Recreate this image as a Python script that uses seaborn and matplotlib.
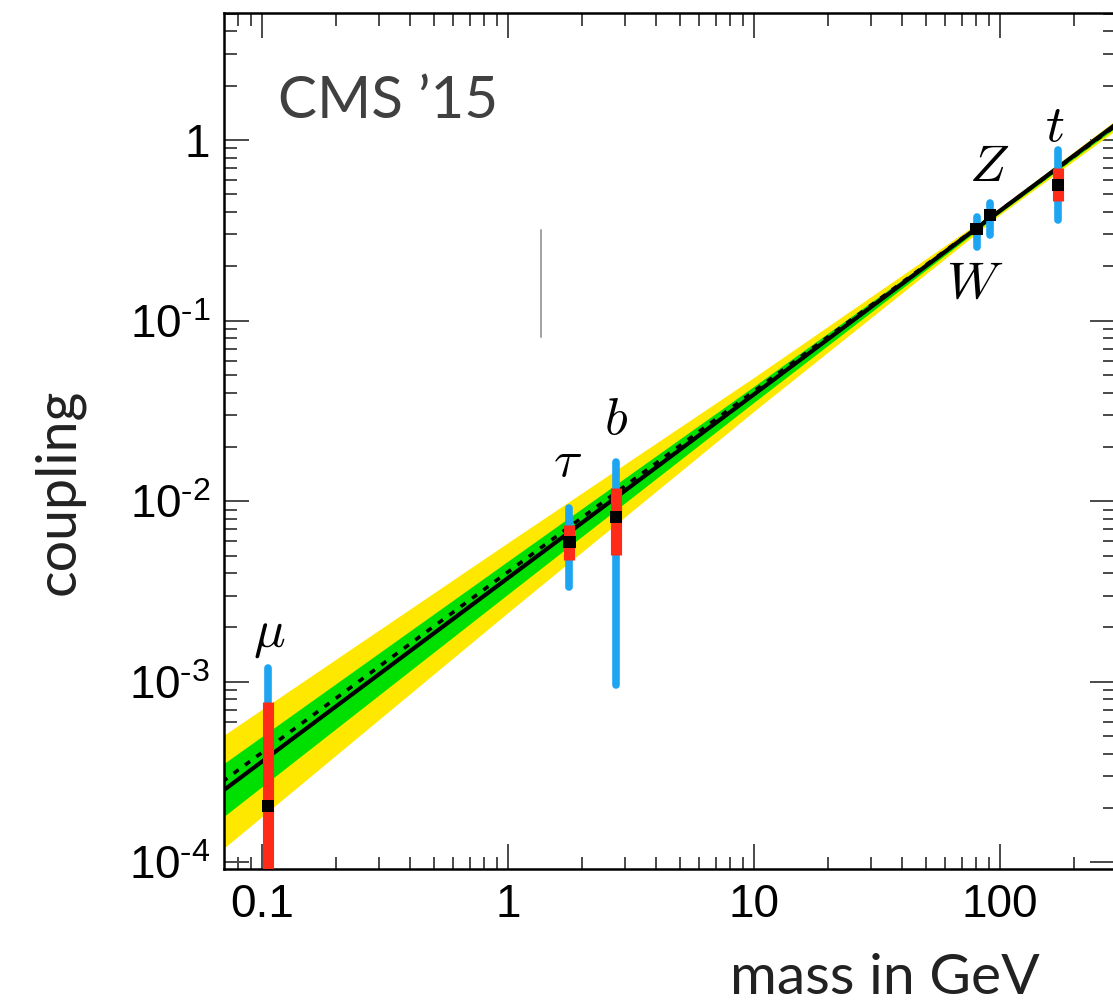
import numpy as np
import pandas as pd
import matplotlib
matplotlib.use("Agg")
import matplotlib.pyplot as plt
import seaborn as sns
from matplotlib.ticker import FixedLocator, FixedFormatter, LogLocator, NullFormatter

# ---------------- data ----------------
particles = ["mu", "tau", "b", "W", "Z", "t"]
particle_labels = [r"$\mu$", r"$\tau$", r"$b$", r"$W$", r"$Z$", r"$t$"]
mass = [0.1057, 1.777, 2.75, 80.4, 91.2, 172.0]
coupling = [2.06e-4, 5.96e-3, 8.20e-3, 0.322, 0.385, 0.564]
red_lo = [5.0e-5, 4.74e-3, 5.05e-3, 0.308, 0.362, 0.459]
red_hi = [7.76e-4, 7.40e-3, 1.19e-2, 0.336, 0.405, 0.700]
blue_lo = [5.0e-5, 3.36e-3, 9.64e-4, 0.256, 0.298, 0.361]
blue_hi = [1.20e-3, 9.19e-3, 1.65e-2, 0.375, 0.448, 0.880]
label_x = [0.1075, 1.74, 2.75, 79.0, 90.2, 167.0]
label_y = [1.81e-3, 1.64e-2, 2.81e-2, 0.161, 0.708, 1.18]

line_x = [0.069, 300.0]
sm_y = [2.80e-4, 1.22]
fit_y = [2.48e-4, 1.24]

band_x = [0.069, 1.0, 10.0, 100.0, 300.0]
yellow_lo = [1.18e-4, 2.42e-3, 3.15e-2, 0.386, 1.15]
yellow_hi = [5.00e-4, 5.90e-3, 4.85e-2, 0.422, 1.31]
green_lo = [1.77e-4, 3.06e-3, 3.53e-2, 0.395, 1.19]
green_hi = [3.48e-4, 4.66e-3, 4.33e-2, 0.412, 1.27]

artifact_x = [1.36, 1.36]
artifact_y = [0.0813, 0.318]

ytick_vals = [1e-4, 1e-3, 1e-2, 1e-1, 1.0]
ytick_labels = [r"$\mathdefault{10^{\text{-}4}}$", r"$\mathdefault{10^{\text{-}3}}$",
                r"$\mathdefault{10^{\text{-}2}}$", r"$\mathdefault{10^{\text{-}1}}$", "1"]
xtick_vals = [0.1, 1, 10, 100]
xtick_labels = ["0.1", "1", "10", "100"]

points = pd.DataFrame({"particle": particles, "mass": mass, "coupling": coupling})
lines = pd.DataFrame({"x": line_x + line_x,
                      "y": sm_y + fit_y,
                      "kind": ["SM", "SM", "fit", "fit"]})

# ---------------- style ----------------
sns.set_theme(style="ticks")
plt.rcParams["font.family"] = ["Liberation Sans", "DejaVu Sans"]
plt.rcParams["mathtext.fontset"] = "cm"
plt.rcParams["axes.unicode_minus"] = False

W_PX, H_PX, DPI = 1113, 1007, 100
fig = plt.figure(figsize=(W_PX / DPI, H_PX / DPI), dpi=DPI)
fig.patch.set_facecolor("white")
ax = fig.add_axes([224 / W_PX, (H_PX - 869) / H_PX, (1115 - 224) / W_PX, (869 - 13) / H_PX])
ax.set_facecolor("white")
ax.set_xscale("log")
ax.set_yscale("log")
ax.set_xlim(0.0701, 293.5)
ax.set_ylim(9.2e-5, 5.05)

YELLOW = "#FFE800"
GREEN = "#00E000"
BLUE = "#1EA5F2"
RED = "#FF2A17"

ax.fill_between(band_x, yellow_lo, yellow_hi, color=YELLOW, lw=0, zorder=1)
ax.fill_between(band_x, green_lo, green_hi, color=GREEN, lw=0, zorder=2)

sns.lineplot(data=lines[lines.kind == "fit"], x="x", y="y", ax=ax, color="black",
             lw=3.0, zorder=3, legend=False)
sns.lineplot(data=lines[lines.kind == "SM"], x="x", y="y", ax=ax, color="black",
             lw=2.6, linestyle=(0, (1.7, 2.2)), zorder=3, legend=False)

bl = ax.vlines(mass, blue_lo, blue_hi, color=BLUE, lw=5.5, zorder=4)
bl.set_capstyle("round")
ax.vlines(mass, red_lo, red_hi, color=RED, lw=8.0, zorder=5)
sns.scatterplot(data=points, x="mass", y="coupling", ax=ax, marker="s", s=80,
                color="black", edgecolor="none", zorder=6, legend=False)

ax.plot(artifact_x, artifact_y, color="#9a9a9a", lw=1.3, zorder=7)

for lx, ly, lab in zip(label_x, label_y, particle_labels):
    ax.text(lx, ly, lab, fontsize=38, ha="center", va="center", color="black",
            math_fontfamily="cm", zorder=8)

# ---------------- axes cosmetics ----------------
ax.yaxis.set_major_locator(FixedLocator(ytick_vals))
ax.yaxis.set_major_formatter(FixedFormatter(ytick_labels))
ax.yaxis.set_minor_locator(LogLocator(base=10, subs=np.arange(2, 10), numticks=20))
ax.yaxis.set_minor_formatter(NullFormatter())
ax.xaxis.set_major_locator(FixedLocator(xtick_vals))
ax.xaxis.set_major_formatter(FixedFormatter(xtick_labels))
ax.xaxis.set_minor_locator(LogLocator(base=10, subs=np.arange(2, 10), numticks=20))
ax.xaxis.set_minor_formatter(NullFormatter())

ax.tick_params(which="both", direction="in", top=True, right=True, color="#4a4a4a",
               width=1.4)
ax.tick_params(which="major", length=18, labelsize=33, pad=10, labelcolor="black")
ax.tick_params(which="minor", length=9)
for sp in ax.spines.values():
    sp.set_linewidth(1.8)
    sp.set_color("black")
ax.set_xlabel("")
ax.set_ylabel("")

fig.text(33 / W_PX, 1 - 492 / H_PX, "coupling", rotation=90, ha="left", va="center",
         fontsize=40, family=["Lato", "DejaVu Sans"], fontweight="normal", color="#222222")
fig.text(1040 / W_PX, 1 - 994 / H_PX, "mass in GeV", ha="right", va="baseline",
         fontsize=41, family=["Lato", "DejaVu Sans"], fontweight="normal", color="#222222")
ax.text(0.0606, 0.877, "CMS \u201915", transform=ax.transAxes, ha="left", va="baseline",
        fontsize=42, family=["Lato", "DejaVu Sans"], color="#404040", zorder=9)

fig.savefig("out.png", dpi=DPI, facecolor="white")
